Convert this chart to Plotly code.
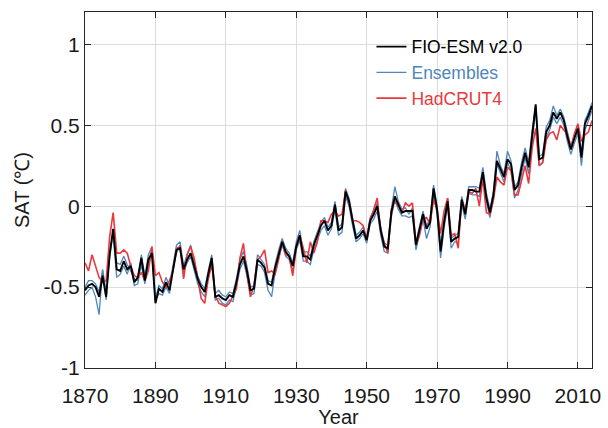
import plotly.graph_objects as go

years = list(range(1870, 2015))

fio = [
    -0.52, -0.49, -0.48, -0.50, -0.56, -0.43, -0.56, -0.30, -0.14, -0.39,
    -0.40, -0.34, -0.39, -0.37, -0.47, -0.44, -0.32, -0.46, -0.33, -0.29,
    -0.60, -0.51, -0.53, -0.47, -0.52, -0.40, -0.27, -0.26, -0.39, -0.33,
    -0.29, -0.37, -0.45, -0.50, -0.53, -0.42, -0.32, -0.56, -0.55, -0.57,
    -0.58, -0.55, -0.56, -0.47, -0.36, -0.31, -0.40, -0.52, -0.51, -0.33,
    -0.35, -0.38, -0.48, -0.49, -0.38, -0.30, -0.22, -0.28, -0.31, -0.37,
    -0.25, -0.18, -0.31, -0.31, -0.33, -0.24, -0.18, -0.12, -0.09, -0.15,
    -0.12, 0.01, -0.15, -0.13, 0.09, 0.03, -0.09, -0.20, -0.18, -0.15,
    -0.21, -0.09, -0.05, 0.00, -0.15, -0.25, -0.26, -0.04, 0.06, 0.01,
    -0.04, -0.03, -0.03, -0.03, -0.24, -0.14, -0.05, -0.14, -0.10, 0.11,
    -0.02, -0.28, -0.10, 0.03, -0.22, -0.20, -0.19, 0.04, -0.05, 0.10,
    0.10, 0.09, 0.09, 0.21, 0.05, -0.04, 0.07, 0.28, 0.23, 0.18,
    0.29, 0.26, 0.10, 0.13, 0.24, 0.33, 0.24, 0.44, 0.63, 0.29,
    0.30, 0.46, 0.50, 0.58, 0.54, 0.58, 0.53, 0.43, 0.35, 0.42,
    0.48, 0.30, 0.51, 0.56, 0.62,
]

ens1 = [
    -0.50, -0.46, -0.46, -0.48, -0.53, -0.39, -0.53, -0.32, -0.16, -0.35,
    -0.36, -0.31, -0.36, -0.40, -0.45, -0.46, -0.30, -0.43, -0.30, -0.25,
    -0.57, -0.49, -0.51, -0.44, -0.49, -0.36, -0.24, -0.22, -0.37, -0.30,
    -0.24, -0.34, -0.43, -0.48, -0.51, -0.40, -0.30, -0.54, -0.52, -0.55,
    -0.56, -0.53, -0.54, -0.45, -0.33, -0.28, -0.37, -0.50, -0.49, -0.30,
    -0.33, -0.36, -0.46, -0.47, -0.36, -0.27, -0.20, -0.26, -0.29, -0.35,
    -0.22, -0.15, -0.29, -0.28, -0.31, -0.22, -0.16, -0.10, -0.07, -0.13,
    -0.10, 0.03, -0.13, -0.11, 0.11, 0.05, -0.07, -0.18, -0.16, -0.13,
    -0.19, -0.07, -0.03, 0.02, -0.13, -0.23, -0.24, -0.02, 0.12, 0.03,
    -0.02, -0.01, -0.05, -0.01, -0.22, -0.12, -0.03, -0.12, -0.08, 0.13,
    0.00, -0.25, -0.08, 0.05, -0.20, -0.18, -0.17, 0.06, -0.03, 0.12,
    0.12, 0.12, 0.11, 0.24, 0.08, -0.02, 0.09, 0.34, 0.25, 0.20,
    0.34, 0.28, 0.12, 0.15, 0.27, 0.36, 0.27, 0.47, 0.62, 0.31,
    0.32, 0.49, 0.53, 0.62, 0.56, 0.60, 0.55, 0.45, 0.37, 0.44,
    0.50, 0.33, 0.53, 0.58, 0.64,
]

ens2 = [
    -0.55, -0.52, -0.50, -0.56, -0.67, -0.40, -0.58, -0.28, -0.17, -0.44,
    -0.42, -0.37, -0.42, -0.35, -0.49, -0.48, -0.36, -0.48, -0.35, -0.30,
    -0.58, -0.54, -0.55, -0.50, -0.54, -0.38, -0.29, -0.24, -0.41, -0.35,
    -0.31, -0.40, -0.48, -0.53, -0.56, -0.44, -0.34, -0.58, -0.57, -0.60,
    -0.61, -0.58, -0.59, -0.50, -0.39, -0.34, -0.43, -0.55, -0.54, -0.36,
    -0.37, -0.41, -0.52, -0.56, -0.41, -0.32, -0.24, -0.31, -0.33, -0.40,
    -0.27, -0.21, -0.34, -0.34, -0.36, -0.27, -0.21, -0.15, -0.12, -0.18,
    -0.14, -0.02, -0.18, -0.16, 0.06, 0.00, -0.12, -0.22, -0.20, -0.17,
    -0.23, -0.11, -0.08, -0.03, -0.18, -0.28, -0.29, -0.07, 0.04, -0.02,
    -0.06, -0.06, -0.07, -0.06, -0.27, -0.17, -0.08, -0.20, -0.13, 0.08,
    -0.05, -0.32, -0.13, 0.00, -0.26, -0.22, -0.22, 0.01, -0.08, 0.08,
    0.07, 0.07, 0.06, 0.18, 0.03, -0.07, 0.04, 0.26, 0.20, 0.15,
    0.27, 0.22, 0.05, 0.10, 0.20, 0.30, 0.20, 0.41, 0.60, 0.25,
    0.27, 0.43, 0.47, 0.55, 0.51, 0.55, 0.50, 0.40, 0.32, 0.39,
    0.45, 0.25, 0.47, 0.53, 0.59,
]

hadcrut4 = [
    -0.35, -0.40, -0.30, -0.37, -0.44, -0.47, -0.46, -0.19, -0.04, -0.29,
    -0.29, -0.27, -0.29, -0.37, -0.43, -0.44, -0.41, -0.46, -0.40, -0.25,
    -0.43, -0.41, -0.47, -0.50, -0.46, -0.40, -0.26, -0.25, -0.45, -0.30,
    -0.25, -0.32, -0.45, -0.57, -0.60, -0.45, -0.36, -0.55, -0.60, -0.61,
    -0.62, -0.60, -0.55, -0.51, -0.32, -0.23, -0.42, -0.56, -0.49, -0.33,
    -0.31, -0.27, -0.41, -0.40, -0.42, -0.33, -0.22, -0.30, -0.31, -0.43,
    -0.26, -0.18, -0.26, -0.35, -0.22, -0.29, -0.22, -0.09, -0.09, -0.10,
    -0.05, -0.03, -0.06, -0.05, 0.10, 0.02, -0.09, -0.09, -0.10, -0.12,
    -0.21, -0.08, -0.02, 0.05, -0.16, -0.22, -0.29, -0.02, 0.03, 0.00,
    -0.04, 0.02, 0.00, 0.02, -0.24, -0.18, -0.08, -0.07, -0.11, 0.04,
    -0.02, -0.17, -0.03, 0.05, -0.18, -0.17, -0.26, 0.04, -0.03, 0.09,
    0.08, 0.11, 0.00, 0.17, -0.04, -0.05, 0.04, 0.18, 0.15, 0.13,
    0.24, 0.22, 0.07, 0.07, 0.17, 0.25, 0.14, 0.36, 0.48, 0.25,
    0.27, 0.41, 0.45, 0.46, 0.41, 0.50, 0.47, 0.45, 0.36, 0.45,
    0.51, 0.40, 0.44, 0.46, 0.53,
]

x_ticks = [1870, 1890, 1910, 1930, 1950, 1970, 1990, 2010]
y_ticks = [-1, -0.5, 0, 0.5, 1]
y_tick_labels = ["-1", "-0.5", "0", "0.5", "1"]

BLACK = "#000000"
BLUE = "#4f86bb"
RED = "#e8393e"
FONT = "Liberation Sans, Arial, sans-serif"

fig = go.Figure()
fig.add_trace(go.Scatter(x=years, y=ens1, mode="lines", line=dict(color=BLUE, width=1.3),
                         name=f"<span style='color:{BLUE}'>Ensembles</span>",
                         legendgroup="ens", legendrank=2))
fig.add_trace(go.Scatter(x=years, y=ens2, mode="lines", line=dict(color=BLUE, width=1.3),
                         name="Ensembles", legendgroup="ens", showlegend=False))
fig.add_trace(go.Scatter(x=years, y=hadcrut4, mode="lines", line=dict(color=RED, width=1.6),
                         name=f"<span style='color:{RED}'>HadCRUT4</span>", legendrank=3))
fig.add_trace(go.Scatter(x=years, y=fio, mode="lines", line=dict(color=BLACK, width=1.9),
                         name="FIO-ESM v2.0", legendrank=1))

axis_common = dict(
    showline=True, linecolor="#262626", linewidth=1.2, mirror="ticks",
    ticks="inside", ticklen=6, tickcolor="#262626", tickwidth=1,
    showgrid=True, gridcolor="#dcdcdc", gridwidth=1, zeroline=False,
    automargin=False,
    tickfont=dict(family=FONT, size=21, color="#1a1a1a"),
)

fig.update_layout(
    width=608, height=428,
    margin=dict(l=85, r=16, t=12, b=60),
    paper_bgcolor="white", plot_bgcolor="white",
    font=dict(family=FONT, color="#1a1a1a"),
    xaxis=dict(range=[1870, 2014], tickvals=x_ticks, ticklabelstandoff=9,
               title=dict(text="Year", font=dict(family=FONT, size=20), standoff=0),
               **axis_common),
    yaxis=dict(range=[-1, 1.2], tickvals=y_ticks, ticktext=y_tick_labels,
               title=dict(text="SAT (℃)", font=dict(family=FONT, size=20), standoff=8),
               **axis_common),
    legend=dict(x=0.565, y=0.953, xanchor="left", yanchor="top",
                bgcolor="rgba(0,0,0,0)", font=dict(family=FONT, size=17.5, color="#000000"),
                traceorder="normal", itemwidth=30, tracegroupgap=0),
    showlegend=True,
)

fig.write_html("out.html")
